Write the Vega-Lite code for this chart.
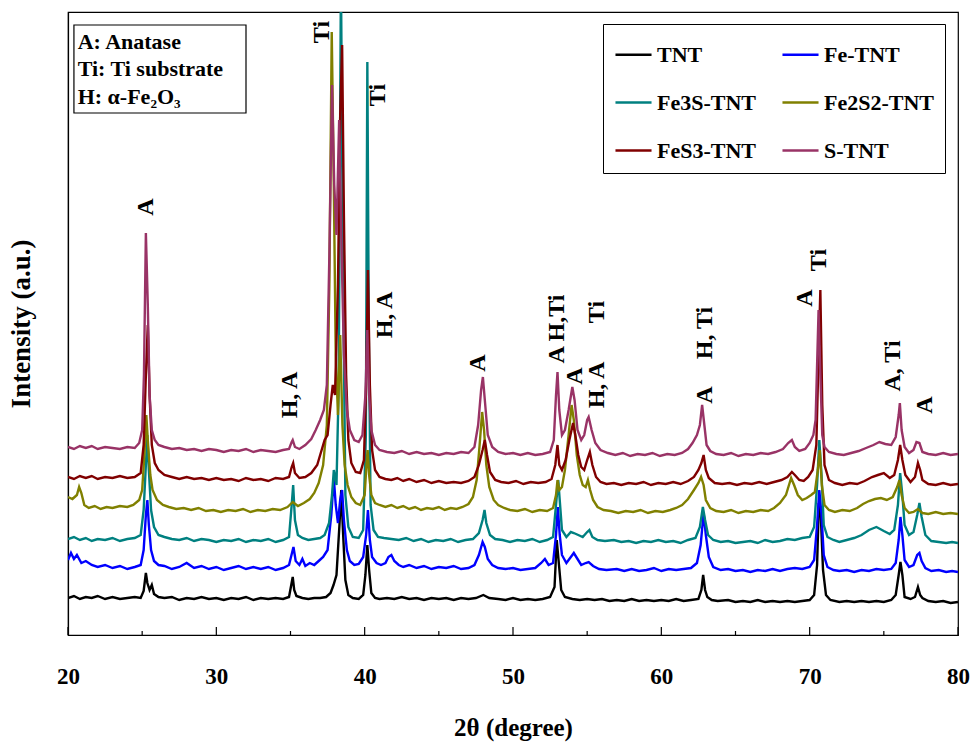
{
"$schema":"https://vega.github.io/schema/vega-lite/v6.json",
"autosize":{"type":"none"},
"width":890,"height":623,
"padding":{"left":68,"top":12,"right":16,"bottom":107},
"background":"white",
"config":{"view":{"stroke":"black","strokeWidth":1.2},"font":"Liberation Serif"},
"datasets":{
"curves":[
{"s":"TNT","x":20.0,"y":37},{"s":"TNT","x":20.4,"y":39},{"s":"TNT","x":20.8,"y":36},{"s":"TNT","x":21.2,"y":38},{"s":"TNT","x":21.6,"y":37},{"s":"TNT","x":22.0,"y":39},{"s":"TNT","x":22.5,"y":36},{"s":"TNT","x":23.0,"y":38},{"s":"TNT","x":23.5,"y":36},{"s":"TNT","x":24.0,"y":37},{"s":"TNT","x":24.5,"y":38},{"s":"TNT","x":24.9,"y":37},{"s":"TNT","x":25.1,"y":44},{"s":"TNT","x":25.25,"y":62},{"s":"TNT","x":25.35,"y":52},{"s":"TNT","x":25.5,"y":45},{"s":"TNT","x":25.65,"y":50},{"s":"TNT","x":25.8,"y":41},{"s":"TNT","x":26.1,"y":38},{"s":"TNT","x":26.5,"y":37},{"s":"TNT","x":27.0,"y":38},{"s":"TNT","x":27.5,"y":35},{"s":"TNT","x":28.0,"y":37},{"s":"TNT","x":28.5,"y":36},{"s":"TNT","x":29.0,"y":38},{"s":"TNT","x":29.5,"y":36},{"s":"TNT","x":30.0,"y":37},{"s":"TNT","x":30.5,"y":35},{"s":"TNT","x":31.0,"y":37},{"s":"TNT","x":31.5,"y":36},{"s":"TNT","x":32.0,"y":38},{"s":"TNT","x":32.5,"y":35},{"s":"TNT","x":33.0,"y":37},{"s":"TNT","x":33.5,"y":36},{"s":"TNT","x":34.0,"y":37},{"s":"TNT","x":34.5,"y":36},{"s":"TNT","x":34.9,"y":38},{"s":"TNT","x":35.05,"y":50},{"s":"TNT","x":35.15,"y":58},{"s":"TNT","x":35.25,"y":45},{"s":"TNT","x":35.4,"y":39},{"s":"TNT","x":35.8,"y":37},{"s":"TNT","x":36.2,"y":36},{"s":"TNT","x":36.6,"y":37},{"s":"TNT","x":37.0,"y":37},{"s":"TNT","x":37.4,"y":38},{"s":"TNT","x":37.7,"y":42},{"s":"TNT","x":37.9,"y":50},{"s":"TNT","x":38.1,"y":60},{"s":"TNT","x":38.3,"y":110},{"s":"TNT","x":38.42,"y":145},{"s":"TNT","x":38.55,"y":100},{"s":"TNT","x":38.7,"y":55},{"s":"TNT","x":38.9,"y":40},{"s":"TNT","x":39.2,"y":37},{"s":"TNT","x":39.6,"y":36},{"s":"TNT","x":39.9,"y":40},{"s":"TNT","x":40.05,"y":60},{"s":"TNT","x":40.18,"y":90},{"s":"TNT","x":40.3,"y":65},{"s":"TNT","x":40.45,"y":42},{"s":"TNT","x":40.7,"y":37},{"s":"TNT","x":41.0,"y":36},{"s":"TNT","x":41.5,"y":37},{"s":"TNT","x":42.0,"y":36},{"s":"TNT","x":42.5,"y":38},{"s":"TNT","x":43.0,"y":36},{"s":"TNT","x":43.5,"y":37},{"s":"TNT","x":44.0,"y":35},{"s":"TNT","x":44.5,"y":37},{"s":"TNT","x":45.0,"y":36},{"s":"TNT","x":45.5,"y":37},{"s":"TNT","x":46.0,"y":35},{"s":"TNT","x":46.5,"y":37},{"s":"TNT","x":47.0,"y":36},{"s":"TNT","x":47.5,"y":37},{"s":"TNT","x":48.0,"y":40},{"s":"TNT","x":48.4,"y":37},{"s":"TNT","x":49.0,"y":36},{"s":"TNT","x":49.5,"y":35},{"s":"TNT","x":50.0,"y":37},{"s":"TNT","x":50.5,"y":35},{"s":"TNT","x":51.0,"y":36},{"s":"TNT","x":51.5,"y":35},{"s":"TNT","x":52.0,"y":36},{"s":"TNT","x":52.5,"y":38},{"s":"TNT","x":52.8,"y":48},{"s":"TNT","x":52.95,"y":95},{"s":"TNT","x":53.1,"y":70},{"s":"TNT","x":53.25,"y":45},{"s":"TNT","x":53.5,"y":38},{"s":"TNT","x":54.0,"y":36},{"s":"TNT","x":54.5,"y":35},{"s":"TNT","x":55.0,"y":36},{"s":"TNT","x":55.5,"y":35},{"s":"TNT","x":56.0,"y":36},{"s":"TNT","x":56.5,"y":34},{"s":"TNT","x":57.0,"y":35},{"s":"TNT","x":57.5,"y":34},{"s":"TNT","x":58.0,"y":36},{"s":"TNT","x":58.5,"y":34},{"s":"TNT","x":59.0,"y":35},{"s":"TNT","x":59.5,"y":34},{"s":"TNT","x":60.0,"y":35},{"s":"TNT","x":60.5,"y":34},{"s":"TNT","x":61.0,"y":36},{"s":"TNT","x":61.5,"y":34},{"s":"TNT","x":62.0,"y":35},{"s":"TNT","x":62.5,"y":36},{"s":"TNT","x":62.7,"y":45},{"s":"TNT","x":62.82,"y":60},{"s":"TNT","x":62.95,"y":45},{"s":"TNT","x":63.1,"y":38},{"s":"TNT","x":63.4,"y":35},{"s":"TNT","x":63.8,"y":34},{"s":"TNT","x":64.5,"y":35},{"s":"TNT","x":65.0,"y":33},{"s":"TNT","x":65.5,"y":34},{"s":"TNT","x":66.0,"y":33},{"s":"TNT","x":66.5,"y":35},{"s":"TNT","x":67.0,"y":33},{"s":"TNT","x":67.5,"y":34},{"s":"TNT","x":68.0,"y":33},{"s":"TNT","x":68.5,"y":34},{"s":"TNT","x":69.0,"y":33},{"s":"TNT","x":69.5,"y":34},{"s":"TNT","x":70.0,"y":35},{"s":"TNT","x":70.3,"y":40},{"s":"TNT","x":70.5,"y":70},{"s":"TNT","x":70.62,"y":132},{"s":"TNT","x":70.75,"y":120},{"s":"TNT","x":70.9,"y":65},{"s":"TNT","x":71.1,"y":40},{"s":"TNT","x":71.4,"y":35},{"s":"TNT","x":72.0,"y":33},{"s":"TNT","x":72.5,"y":34},{"s":"TNT","x":73.0,"y":33},{"s":"TNT","x":73.5,"y":34},{"s":"TNT","x":74.0,"y":33},{"s":"TNT","x":74.5,"y":34},{"s":"TNT","x":75.0,"y":33},{"s":"TNT","x":75.5,"y":35},{"s":"TNT","x":75.8,"y":40},{"s":"TNT","x":76.0,"y":60},{"s":"TNT","x":76.12,"y":73},{"s":"TNT","x":76.25,"y":60},{"s":"TNT","x":76.4,"y":38},{"s":"TNT","x":76.8,"y":36},{"s":"TNT","x":77.1,"y":38},{"s":"TNT","x":77.3,"y":48},{"s":"TNT","x":77.45,"y":40},{"s":"TNT","x":77.6,"y":37},{"s":"TNT","x":78.0,"y":34},{"s":"TNT","x":78.5,"y":33},{"s":"TNT","x":79.0,"y":34},{"s":"TNT","x":79.5,"y":32},{"s":"TNT","x":80.0,"y":33},

{"s":"Fe-TNT","x":20.0,"y":75},{"s":"Fe-TNT","x":20.2,"y":82},{"s":"Fe-TNT","x":20.4,"y":76},{"s":"Fe-TNT","x":20.6,"y":80},{"s":"Fe-TNT","x":20.9,"y":72},{"s":"Fe-TNT","x":21.2,"y":74},{"s":"Fe-TNT","x":21.6,"y":70},{"s":"Fe-TNT","x":22.0,"y":68},{"s":"Fe-TNT","x":22.5,"y":70},{"s":"Fe-TNT","x":23.0,"y":67},{"s":"Fe-TNT","x":23.5,"y":69},{"s":"Fe-TNT","x":24.0,"y":66},{"s":"Fe-TNT","x":24.5,"y":68},{"s":"Fe-TNT","x":24.9,"y":70},{"s":"Fe-TNT","x":25.1,"y":85},{"s":"Fe-TNT","x":25.25,"y":120},{"s":"Fe-TNT","x":25.35,"y":135},{"s":"Fe-TNT","x":25.45,"y":110},{"s":"Fe-TNT","x":25.6,"y":85},{"s":"Fe-TNT","x":25.8,"y":74},{"s":"Fe-TNT","x":26.1,"y":70},{"s":"Fe-TNT","x":26.5,"y":69},{"s":"Fe-TNT","x":27.0,"y":66},{"s":"Fe-TNT","x":27.5,"y":68},{"s":"Fe-TNT","x":28.0,"y":72},{"s":"Fe-TNT","x":28.5,"y":67},{"s":"Fe-TNT","x":29.0,"y":69},{"s":"Fe-TNT","x":29.5,"y":66},{"s":"Fe-TNT","x":30.0,"y":68},{"s":"Fe-TNT","x":30.5,"y":65},{"s":"Fe-TNT","x":31.0,"y":67},{"s":"Fe-TNT","x":31.5,"y":69},{"s":"Fe-TNT","x":32.0,"y":66},{"s":"Fe-TNT","x":32.5,"y":68},{"s":"Fe-TNT","x":33.0,"y":66},{"s":"Fe-TNT","x":33.5,"y":68},{"s":"Fe-TNT","x":34.0,"y":65},{"s":"Fe-TNT","x":34.5,"y":67},{"s":"Fe-TNT","x":34.9,"y":70},{"s":"Fe-TNT","x":35.1,"y":82},{"s":"Fe-TNT","x":35.2,"y":88},{"s":"Fe-TNT","x":35.35,"y":74},{"s":"Fe-TNT","x":35.6,"y":70},{"s":"Fe-TNT","x":35.8,"y":76},{"s":"Fe-TNT","x":36.0,"y":69},{"s":"Fe-TNT","x":36.3,"y":72},{"s":"Fe-TNT","x":36.6,"y":70},{"s":"Fe-TNT","x":36.9,"y":74},{"s":"Fe-TNT","x":37.2,"y":78},{"s":"Fe-TNT","x":37.5,"y":85},{"s":"Fe-TNT","x":37.75,"y":120},{"s":"Fe-TNT","x":37.92,"y":157},{"s":"Fe-TNT","x":38.05,"y":130},{"s":"Fe-TNT","x":38.2,"y":112},{"s":"Fe-TNT","x":38.35,"y":135},{"s":"Fe-TNT","x":38.48,"y":145},{"s":"Fe-TNT","x":38.6,"y":115},{"s":"Fe-TNT","x":38.8,"y":85},{"s":"Fe-TNT","x":39.0,"y":74},{"s":"Fe-TNT","x":39.3,"y":70},{"s":"Fe-TNT","x":39.6,"y":71},{"s":"Fe-TNT","x":39.9,"y":78},{"s":"Fe-TNT","x":40.1,"y":100},{"s":"Fe-TNT","x":40.22,"y":125},{"s":"Fe-TNT","x":40.35,"y":95},{"s":"Fe-TNT","x":40.5,"y":78},{"s":"Fe-TNT","x":40.8,"y":72},{"s":"Fe-TNT","x":41.1,"y":70},{"s":"Fe-TNT","x":41.4,"y":72},{"s":"Fe-TNT","x":41.6,"y":78},{"s":"Fe-TNT","x":41.8,"y":80},{"s":"Fe-TNT","x":42.0,"y":74},{"s":"Fe-TNT","x":42.3,"y":70},{"s":"Fe-TNT","x":42.6,"y":68},{"s":"Fe-TNT","x":43.0,"y":70},{"s":"Fe-TNT","x":43.5,"y":67},{"s":"Fe-TNT","x":44.0,"y":69},{"s":"Fe-TNT","x":44.5,"y":66},{"s":"Fe-TNT","x":45.0,"y":68},{"s":"Fe-TNT","x":45.5,"y":67},{"s":"Fe-TNT","x":46.0,"y":69},{"s":"Fe-TNT","x":46.5,"y":66},{"s":"Fe-TNT","x":47.0,"y":67},{"s":"Fe-TNT","x":47.4,"y":70},{"s":"Fe-TNT","x":47.7,"y":80},{"s":"Fe-TNT","x":47.95,"y":93},{"s":"Fe-TNT","x":48.1,"y":88},{"s":"Fe-TNT","x":48.3,"y":76},{"s":"Fe-TNT","x":48.6,"y":70},{"s":"Fe-TNT","x":49.0,"y":67},{"s":"Fe-TNT","x":49.5,"y":66},{"s":"Fe-TNT","x":50.0,"y":67},{"s":"Fe-TNT","x":50.5,"y":65},{"s":"Fe-TNT","x":51.0,"y":66},{"s":"Fe-TNT","x":51.5,"y":67},{"s":"Fe-TNT","x":51.9,"y":72},{"s":"Fe-TNT","x":52.15,"y":76},{"s":"Fe-TNT","x":52.4,"y":70},{"s":"Fe-TNT","x":52.7,"y":72},{"s":"Fe-TNT","x":52.9,"y":100},{"s":"Fe-TNT","x":53.02,"y":128},{"s":"Fe-TNT","x":53.15,"y":100},{"s":"Fe-TNT","x":53.3,"y":80},{"s":"Fe-TNT","x":53.6,"y":72},{"s":"Fe-TNT","x":53.9,"y":78},{"s":"Fe-TNT","x":54.1,"y":82},{"s":"Fe-TNT","x":54.35,"y":76},{"s":"Fe-TNT","x":54.6,"y":70},{"s":"Fe-TNT","x":54.9,"y":72},{"s":"Fe-TNT","x":55.1,"y":73},{"s":"Fe-TNT","x":55.4,"y":69},{"s":"Fe-TNT","x":55.8,"y":66},{"s":"Fe-TNT","x":56.3,"y":65},{"s":"Fe-TNT","x":57.0,"y":66},{"s":"Fe-TNT","x":57.5,"y":64},{"s":"Fe-TNT","x":58.0,"y":66},{"s":"Fe-TNT","x":58.5,"y":64},{"s":"Fe-TNT","x":59.0,"y":65},{"s":"Fe-TNT","x":59.5,"y":67},{"s":"Fe-TNT","x":60.0,"y":64},{"s":"Fe-TNT","x":60.5,"y":66},{"s":"Fe-TNT","x":61.0,"y":65},{"s":"Fe-TNT","x":61.5,"y":66},{"s":"Fe-TNT","x":62.0,"y":67},{"s":"Fe-TNT","x":62.4,"y":72},{"s":"Fe-TNT","x":62.65,"y":90},{"s":"Fe-TNT","x":62.85,"y":122},{"s":"Fe-TNT","x":63.0,"y":100},{"s":"Fe-TNT","x":63.2,"y":78},{"s":"Fe-TNT","x":63.5,"y":68},{"s":"Fe-TNT","x":64.0,"y":65},{"s":"Fe-TNT","x":64.5,"y":66},{"s":"Fe-TNT","x":65.0,"y":64},{"s":"Fe-TNT","x":65.5,"y":65},{"s":"Fe-TNT","x":66.0,"y":63},{"s":"Fe-TNT","x":66.5,"y":65},{"s":"Fe-TNT","x":67.0,"y":64},{"s":"Fe-TNT","x":67.5,"y":66},{"s":"Fe-TNT","x":68.0,"y":64},{"s":"Fe-TNT","x":68.5,"y":66},{"s":"Fe-TNT","x":69.0,"y":67},{"s":"Fe-TNT","x":69.5,"y":66},{"s":"Fe-TNT","x":70.0,"y":68},{"s":"Fe-TNT","x":70.3,"y":75},{"s":"Fe-TNT","x":70.5,"y":110},{"s":"Fe-TNT","x":70.65,"y":145},{"s":"Fe-TNT","x":70.8,"y":120},{"s":"Fe-TNT","x":70.95,"y":80},{"s":"Fe-TNT","x":71.2,"y":68},{"s":"Fe-TNT","x":71.6,"y":65},{"s":"Fe-TNT","x":72.0,"y":64},{"s":"Fe-TNT","x":72.5,"y":65},{"s":"Fe-TNT","x":73.0,"y":63},{"s":"Fe-TNT","x":73.5,"y":65},{"s":"Fe-TNT","x":74.0,"y":64},{"s":"Fe-TNT","x":74.5,"y":66},{"s":"Fe-TNT","x":75.0,"y":65},{"s":"Fe-TNT","x":75.5,"y":66},{"s":"Fe-TNT","x":75.8,"y":72},{"s":"Fe-TNT","x":76.0,"y":95},{"s":"Fe-TNT","x":76.12,"y":118},{"s":"Fe-TNT","x":76.25,"y":100},{"s":"Fe-TNT","x":76.4,"y":75},{"s":"Fe-TNT","x":76.7,"y":68},{"s":"Fe-TNT","x":77.0,"y":70},{"s":"Fe-TNT","x":77.25,"y":80},{"s":"Fe-TNT","x":77.4,"y":82},{"s":"Fe-TNT","x":77.55,"y":74},{"s":"Fe-TNT","x":77.8,"y":67},{"s":"Fe-TNT","x":78.2,"y":64},{"s":"Fe-TNT","x":78.7,"y":65},{"s":"Fe-TNT","x":79.2,"y":63},{"s":"Fe-TNT","x":79.6,"y":64},{"s":"Fe-TNT","x":80.0,"y":63},

{"s":"Fe3S-TNT","x":20.0,"y":96},{"s":"Fe3S-TNT","x":20.4,"y":98},{"s":"Fe3S-TNT","x":20.8,"y":95},{"s":"Fe3S-TNT","x":21.2,"y":97},{"s":"Fe3S-TNT","x":21.6,"y":94},{"s":"Fe3S-TNT","x":22.0,"y":96},{"s":"Fe3S-TNT","x":22.5,"y":95},{"s":"Fe3S-TNT","x":23.0,"y":97},{"s":"Fe3S-TNT","x":23.5,"y":94},{"s":"Fe3S-TNT","x":24.0,"y":96},{"s":"Fe3S-TNT","x":24.5,"y":97},{"s":"Fe3S-TNT","x":24.9,"y":100},{"s":"Fe3S-TNT","x":25.1,"y":125},{"s":"Fe3S-TNT","x":25.25,"y":170},{"s":"Fe3S-TNT","x":25.35,"y":200},{"s":"Fe3S-TNT","x":25.45,"y":165},{"s":"Fe3S-TNT","x":25.6,"y":125},{"s":"Fe3S-TNT","x":25.8,"y":108},{"s":"Fe3S-TNT","x":26.1,"y":100},{"s":"Fe3S-TNT","x":26.5,"y":98},{"s":"Fe3S-TNT","x":27.0,"y":96},{"s":"Fe3S-TNT","x":27.5,"y":95},{"s":"Fe3S-TNT","x":28.0,"y":97},{"s":"Fe3S-TNT","x":28.5,"y":94},{"s":"Fe3S-TNT","x":29.0,"y":96},{"s":"Fe3S-TNT","x":29.5,"y":95},{"s":"Fe3S-TNT","x":30.0,"y":93},{"s":"Fe3S-TNT","x":30.5,"y":95},{"s":"Fe3S-TNT","x":31.0,"y":94},{"s":"Fe3S-TNT","x":31.5,"y":96},{"s":"Fe3S-TNT","x":32.0,"y":93},{"s":"Fe3S-TNT","x":32.5,"y":95},{"s":"Fe3S-TNT","x":33.0,"y":94},{"s":"Fe3S-TNT","x":33.5,"y":96},{"s":"Fe3S-TNT","x":34.0,"y":93},{"s":"Fe3S-TNT","x":34.5,"y":95},{"s":"Fe3S-TNT","x":34.9,"y":98},{"s":"Fe3S-TNT","x":35.08,"y":130},{"s":"Fe3S-TNT","x":35.18,"y":150},{"s":"Fe3S-TNT","x":35.3,"y":115},{"s":"Fe3S-TNT","x":35.5,"y":100},{"s":"Fe3S-TNT","x":35.8,"y":97},{"s":"Fe3S-TNT","x":36.2,"y":95},{"s":"Fe3S-TNT","x":36.6,"y":96},{"s":"Fe3S-TNT","x":37.0,"y":97},{"s":"Fe3S-TNT","x":37.3,"y":100},{"s":"Fe3S-TNT","x":37.6,"y":112},{"s":"Fe3S-TNT","x":37.8,"y":140},{"s":"Fe3S-TNT","x":37.92,"y":165},{"s":"Fe3S-TNT","x":38.1,"y":150},{"s":"Fe3S-TNT","x":38.25,"y":250},{"s":"Fe3S-TNT","x":38.4,"y":660},{"s":"Fe3S-TNT","x":38.55,"y":350},{"s":"Fe3S-TNT","x":38.7,"y":140},{"s":"Fe3S-TNT","x":38.9,"y":108},{"s":"Fe3S-TNT","x":39.2,"y":98},{"s":"Fe3S-TNT","x":39.6,"y":97},{"s":"Fe3S-TNT","x":39.9,"y":105},{"s":"Fe3S-TNT","x":40.08,"y":200},{"s":"Fe3S-TNT","x":40.18,"y":573},{"s":"Fe3S-TNT","x":40.28,"y":300},{"s":"Fe3S-TNT","x":40.4,"y":130},{"s":"Fe3S-TNT","x":40.6,"y":105},{"s":"Fe3S-TNT","x":40.9,"y":98},{"s":"Fe3S-TNT","x":41.3,"y":97},{"s":"Fe3S-TNT","x":41.8,"y":96},{"s":"Fe3S-TNT","x":42.3,"y":95},{"s":"Fe3S-TNT","x":42.8,"y":97},{"s":"Fe3S-TNT","x":43.3,"y":94},{"s":"Fe3S-TNT","x":43.8,"y":96},{"s":"Fe3S-TNT","x":44.3,"y":93},{"s":"Fe3S-TNT","x":44.8,"y":95},{"s":"Fe3S-TNT","x":45.3,"y":94},{"s":"Fe3S-TNT","x":45.8,"y":96},{"s":"Fe3S-TNT","x":46.3,"y":93},{"s":"Fe3S-TNT","x":46.8,"y":95},{"s":"Fe3S-TNT","x":47.3,"y":96},{"s":"Fe3S-TNT","x":47.7,"y":102},{"s":"Fe3S-TNT","x":47.95,"y":115},{"s":"Fe3S-TNT","x":48.08,"y":125},{"s":"Fe3S-TNT","x":48.2,"y":112},{"s":"Fe3S-TNT","x":48.45,"y":100},{"s":"Fe3S-TNT","x":48.8,"y":96},{"s":"Fe3S-TNT","x":49.3,"y":95},{"s":"Fe3S-TNT","x":49.8,"y":93},{"s":"Fe3S-TNT","x":50.3,"y":95},{"s":"Fe3S-TNT","x":50.8,"y":94},{"s":"Fe3S-TNT","x":51.3,"y":96},{"s":"Fe3S-TNT","x":51.8,"y":93},{"s":"Fe3S-TNT","x":52.3,"y":95},{"s":"Fe3S-TNT","x":52.7,"y":98},{"s":"Fe3S-TNT","x":52.9,"y":130},{"s":"Fe3S-TNT","x":53.05,"y":155},{"s":"Fe3S-TNT","x":53.15,"y":135},{"s":"Fe3S-TNT","x":53.3,"y":105},{"s":"Fe3S-TNT","x":53.6,"y":98},{"s":"Fe3S-TNT","x":53.9,"y":103},{"s":"Fe3S-TNT","x":54.1,"y":102},{"s":"Fe3S-TNT","x":54.4,"y":100},{"s":"Fe3S-TNT","x":54.7,"y":98},{"s":"Fe3S-TNT","x":55.0,"y":103},{"s":"Fe3S-TNT","x":55.15,"y":105},{"s":"Fe3S-TNT","x":55.35,"y":98},{"s":"Fe3S-TNT","x":55.7,"y":95},{"s":"Fe3S-TNT","x":56.2,"y":94},{"s":"Fe3S-TNT","x":56.8,"y":95},{"s":"Fe3S-TNT","x":57.3,"y":93},{"s":"Fe3S-TNT","x":57.8,"y":94},{"s":"Fe3S-TNT","x":58.3,"y":92},{"s":"Fe3S-TNT","x":58.8,"y":94},{"s":"Fe3S-TNT","x":59.3,"y":93},{"s":"Fe3S-TNT","x":59.8,"y":95},{"s":"Fe3S-TNT","x":60.3,"y":93},{"s":"Fe3S-TNT","x":60.8,"y":94},{"s":"Fe3S-TNT","x":61.3,"y":92},{"s":"Fe3S-TNT","x":61.8,"y":95},{"s":"Fe3S-TNT","x":62.3,"y":97},{"s":"Fe3S-TNT","x":62.6,"y":108},{"s":"Fe3S-TNT","x":62.8,"y":128},{"s":"Fe3S-TNT","x":62.95,"y":115},{"s":"Fe3S-TNT","x":63.15,"y":100},{"s":"Fe3S-TNT","x":63.5,"y":95},{"s":"Fe3S-TNT","x":64.0,"y":93},{"s":"Fe3S-TNT","x":64.5,"y":94},{"s":"Fe3S-TNT","x":65.0,"y":92},{"s":"Fe3S-TNT","x":65.5,"y":93},{"s":"Fe3S-TNT","x":66.0,"y":94},{"s":"Fe3S-TNT","x":66.5,"y":92},{"s":"Fe3S-TNT","x":67.0,"y":95},{"s":"Fe3S-TNT","x":67.5,"y":93},{"s":"Fe3S-TNT","x":68.0,"y":94},{"s":"Fe3S-TNT","x":68.5,"y":96},{"s":"Fe3S-TNT","x":69.0,"y":95},{"s":"Fe3S-TNT","x":69.5,"y":97},{"s":"Fe3S-TNT","x":70.0,"y":98},{"s":"Fe3S-TNT","x":70.3,"y":108},{"s":"Fe3S-TNT","x":70.5,"y":150},{"s":"Fe3S-TNT","x":70.65,"y":195},{"s":"Fe3S-TNT","x":70.8,"y":160},{"s":"Fe3S-TNT","x":70.95,"y":110},{"s":"Fe3S-TNT","x":71.2,"y":98},{"s":"Fe3S-TNT","x":71.6,"y":95},{"s":"Fe3S-TNT","x":72.0,"y":93},{"s":"Fe3S-TNT","x":72.5,"y":95},{"s":"Fe3S-TNT","x":73.0,"y":97},{"s":"Fe3S-TNT","x":73.5,"y":100},{"s":"Fe3S-TNT","x":74.0,"y":105},{"s":"Fe3S-TNT","x":74.5,"y":108},{"s":"Fe3S-TNT","x":75.0,"y":104},{"s":"Fe3S-TNT","x":75.4,"y":101},{"s":"Fe3S-TNT","x":75.7,"y":105},{"s":"Fe3S-TNT","x":75.95,"y":130},{"s":"Fe3S-TNT","x":76.1,"y":162},{"s":"Fe3S-TNT","x":76.25,"y":140},{"s":"Fe3S-TNT","x":76.4,"y":110},{"s":"Fe3S-TNT","x":76.7,"y":100},{"s":"Fe3S-TNT","x":77.0,"y":103},{"s":"Fe3S-TNT","x":77.25,"y":120},{"s":"Fe3S-TNT","x":77.4,"y":132},{"s":"Fe3S-TNT","x":77.55,"y":118},{"s":"Fe3S-TNT","x":77.8,"y":100},{"s":"Fe3S-TNT","x":78.2,"y":94},{"s":"Fe3S-TNT","x":78.7,"y":93},{"s":"Fe3S-TNT","x":79.2,"y":92},{"s":"Fe3S-TNT","x":79.6,"y":93},{"s":"Fe3S-TNT","x":80.0,"y":92},

{"s":"Fe2S2-TNT","x":20.0,"y":138},{"s":"Fe2S2-TNT","x":20.3,"y":136},{"s":"Fe2S2-TNT","x":20.6,"y":140},{"s":"Fe2S2-TNT","x":20.75,"y":148},{"s":"Fe2S2-TNT","x":20.9,"y":142},{"s":"Fe2S2-TNT","x":21.1,"y":130},{"s":"Fe2S2-TNT","x":21.4,"y":127},{"s":"Fe2S2-TNT","x":21.8,"y":129},{"s":"Fe2S2-TNT","x":22.2,"y":126},{"s":"Fe2S2-TNT","x":22.6,"y":128},{"s":"Fe2S2-TNT","x":23.0,"y":127},{"s":"Fe2S2-TNT","x":23.5,"y":129},{"s":"Fe2S2-TNT","x":24.0,"y":128},{"s":"Fe2S2-TNT","x":24.4,"y":130},{"s":"Fe2S2-TNT","x":24.8,"y":135},{"s":"Fe2S2-TNT","x":25.0,"y":145},{"s":"Fe2S2-TNT","x":25.15,"y":180},{"s":"Fe2S2-TNT","x":25.28,"y":220},{"s":"Fe2S2-TNT","x":25.4,"y":190},{"s":"Fe2S2-TNT","x":25.55,"y":160},{"s":"Fe2S2-TNT","x":25.7,"y":145},{"s":"Fe2S2-TNT","x":26.0,"y":135},{"s":"Fe2S2-TNT","x":26.4,"y":130},{"s":"Fe2S2-TNT","x":26.8,"y":128},{"s":"Fe2S2-TNT","x":27.3,"y":126},{"s":"Fe2S2-TNT","x":27.8,"y":127},{"s":"Fe2S2-TNT","x":28.3,"y":125},{"s":"Fe2S2-TNT","x":28.8,"y":127},{"s":"Fe2S2-TNT","x":29.3,"y":124},{"s":"Fe2S2-TNT","x":29.8,"y":125},{"s":"Fe2S2-TNT","x":30.3,"y":123},{"s":"Fe2S2-TNT","x":30.8,"y":125},{"s":"Fe2S2-TNT","x":31.3,"y":124},{"s":"Fe2S2-TNT","x":31.8,"y":126},{"s":"Fe2S2-TNT","x":32.3,"y":123},{"s":"Fe2S2-TNT","x":32.8,"y":125},{"s":"Fe2S2-TNT","x":33.3,"y":124},{"s":"Fe2S2-TNT","x":33.8,"y":126},{"s":"Fe2S2-TNT","x":34.3,"y":125},{"s":"Fe2S2-TNT","x":34.8,"y":128},{"s":"Fe2S2-TNT","x":35.15,"y":133},{"s":"Fe2S2-TNT","x":35.5,"y":129},{"s":"Fe2S2-TNT","x":35.9,"y":132},{"s":"Fe2S2-TNT","x":36.3,"y":136},{"s":"Fe2S2-TNT","x":36.6,"y":142},{"s":"Fe2S2-TNT","x":36.9,"y":152},{"s":"Fe2S2-TNT","x":37.2,"y":170},{"s":"Fe2S2-TNT","x":37.45,"y":210},{"s":"Fe2S2-TNT","x":37.62,"y":350},{"s":"Fe2S2-TNT","x":37.78,"y":603},{"s":"Fe2S2-TNT","x":37.92,"y":450},{"s":"Fe2S2-TNT","x":38.05,"y":280},{"s":"Fe2S2-TNT","x":38.2,"y":220},{"s":"Fe2S2-TNT","x":38.35,"y":300},{"s":"Fe2S2-TNT","x":38.5,"y":210},{"s":"Fe2S2-TNT","x":38.65,"y":170},{"s":"Fe2S2-TNT","x":38.85,"y":150},{"s":"Fe2S2-TNT","x":39.1,"y":138},{"s":"Fe2S2-TNT","x":39.4,"y":132},{"s":"Fe2S2-TNT","x":39.7,"y":130},{"s":"Fe2S2-TNT","x":40.0,"y":140},{"s":"Fe2S2-TNT","x":40.12,"y":170},{"s":"Fe2S2-TNT","x":40.2,"y":185},{"s":"Fe2S2-TNT","x":40.3,"y":160},{"s":"Fe2S2-TNT","x":40.45,"y":140},{"s":"Fe2S2-TNT","x":40.7,"y":132},{"s":"Fe2S2-TNT","x":41.0,"y":130},{"s":"Fe2S2-TNT","x":41.4,"y":128},{"s":"Fe2S2-TNT","x":41.8,"y":130},{"s":"Fe2S2-TNT","x":42.2,"y":127},{"s":"Fe2S2-TNT","x":42.6,"y":129},{"s":"Fe2S2-TNT","x":43.0,"y":126},{"s":"Fe2S2-TNT","x":43.4,"y":128},{"s":"Fe2S2-TNT","x":43.8,"y":125},{"s":"Fe2S2-TNT","x":44.2,"y":127},{"s":"Fe2S2-TNT","x":44.6,"y":126},{"s":"Fe2S2-TNT","x":45.0,"y":128},{"s":"Fe2S2-TNT","x":45.4,"y":125},{"s":"Fe2S2-TNT","x":45.8,"y":127},{"s":"Fe2S2-TNT","x":46.2,"y":126},{"s":"Fe2S2-TNT","x":46.6,"y":128},{"s":"Fe2S2-TNT","x":47.0,"y":131},{"s":"Fe2S2-TNT","x":47.3,"y":138},{"s":"Fe2S2-TNT","x":47.55,"y":155},{"s":"Fe2S2-TNT","x":47.75,"y":190},{"s":"Fe2S2-TNT","x":47.92,"y":223},{"s":"Fe2S2-TNT","x":48.05,"y":205},{"s":"Fe2S2-TNT","x":48.2,"y":170},{"s":"Fe2S2-TNT","x":48.4,"y":148},{"s":"Fe2S2-TNT","x":48.7,"y":135},{"s":"Fe2S2-TNT","x":49.0,"y":130},{"s":"Fe2S2-TNT","x":49.4,"y":127},{"s":"Fe2S2-TNT","x":49.8,"y":125},{"s":"Fe2S2-TNT","x":50.3,"y":124},{"s":"Fe2S2-TNT","x":50.8,"y":126},{"s":"Fe2S2-TNT","x":51.3,"y":123},{"s":"Fe2S2-TNT","x":51.8,"y":125},{"s":"Fe2S2-TNT","x":52.3,"y":124},{"s":"Fe2S2-TNT","x":52.7,"y":127},{"s":"Fe2S2-TNT","x":52.9,"y":140},{"s":"Fe2S2-TNT","x":53.0,"y":155},{"s":"Fe2S2-TNT","x":53.12,"y":145},{"s":"Fe2S2-TNT","x":53.3,"y":148},{"s":"Fe2S2-TNT","x":53.5,"y":165},{"s":"Fe2S2-TNT","x":53.75,"y":200},{"s":"Fe2S2-TNT","x":53.95,"y":230},{"s":"Fe2S2-TNT","x":54.1,"y":215},{"s":"Fe2S2-TNT","x":54.3,"y":180},{"s":"Fe2S2-TNT","x":54.5,"y":160},{"s":"Fe2S2-TNT","x":54.7,"y":150},{"s":"Fe2S2-TNT","x":54.9,"y":148},{"s":"Fe2S2-TNT","x":55.05,"y":155},{"s":"Fe2S2-TNT","x":55.2,"y":145},{"s":"Fe2S2-TNT","x":55.4,"y":135},{"s":"Fe2S2-TNT","x":55.7,"y":128},{"s":"Fe2S2-TNT","x":56.1,"y":125},{"s":"Fe2S2-TNT","x":56.6,"y":124},{"s":"Fe2S2-TNT","x":57.1,"y":122},{"s":"Fe2S2-TNT","x":57.6,"y":124},{"s":"Fe2S2-TNT","x":58.1,"y":123},{"s":"Fe2S2-TNT","x":58.6,"y":125},{"s":"Fe2S2-TNT","x":59.1,"y":122},{"s":"Fe2S2-TNT","x":59.6,"y":124},{"s":"Fe2S2-TNT","x":60.1,"y":123},{"s":"Fe2S2-TNT","x":60.6,"y":125},{"s":"Fe2S2-TNT","x":61.0,"y":127},{"s":"Fe2S2-TNT","x":61.4,"y":130},{"s":"Fe2S2-TNT","x":61.8,"y":136},{"s":"Fe2S2-TNT","x":62.2,"y":145},{"s":"Fe2S2-TNT","x":62.5,"y":152},{"s":"Fe2S2-TNT","x":62.68,"y":158},{"s":"Fe2S2-TNT","x":62.85,"y":150},{"s":"Fe2S2-TNT","x":63.0,"y":135},{"s":"Fe2S2-TNT","x":63.3,"y":127},{"s":"Fe2S2-TNT","x":63.7,"y":124},{"s":"Fe2S2-TNT","x":64.2,"y":123},{"s":"Fe2S2-TNT","x":64.7,"y":125},{"s":"Fe2S2-TNT","x":65.2,"y":122},{"s":"Fe2S2-TNT","x":65.7,"y":124},{"s":"Fe2S2-TNT","x":66.2,"y":123},{"s":"Fe2S2-TNT","x":66.7,"y":125},{"s":"Fe2S2-TNT","x":67.2,"y":124},{"s":"Fe2S2-TNT","x":67.6,"y":127},{"s":"Fe2S2-TNT","x":68.0,"y":132},{"s":"Fe2S2-TNT","x":68.4,"y":140},{"s":"Fe2S2-TNT","x":68.75,"y":157},{"s":"Fe2S2-TNT","x":68.95,"y":150},{"s":"Fe2S2-TNT","x":69.2,"y":140},{"s":"Fe2S2-TNT","x":69.5,"y":135},{"s":"Fe2S2-TNT","x":69.8,"y":137},{"s":"Fe2S2-TNT","x":70.1,"y":140},{"s":"Fe2S2-TNT","x":70.35,"y":143},{"s":"Fe2S2-TNT","x":70.55,"y":165},{"s":"Fe2S2-TNT","x":70.68,"y":185},{"s":"Fe2S2-TNT","x":70.82,"y":150},{"s":"Fe2S2-TNT","x":71.0,"y":130},{"s":"Fe2S2-TNT","x":71.3,"y":125},{"s":"Fe2S2-TNT","x":71.7,"y":123},{"s":"Fe2S2-TNT","x":72.2,"y":125},{"s":"Fe2S2-TNT","x":72.7,"y":124},{"s":"Fe2S2-TNT","x":73.2,"y":127},{"s":"Fe2S2-TNT","x":73.6,"y":131},{"s":"Fe2S2-TNT","x":74.0,"y":134},{"s":"Fe2S2-TNT","x":74.4,"y":136},{"s":"Fe2S2-TNT","x":74.8,"y":137},{"s":"Fe2S2-TNT","x":75.2,"y":135},{"s":"Fe2S2-TNT","x":75.6,"y":138},{"s":"Fe2S2-TNT","x":75.9,"y":148},{"s":"Fe2S2-TNT","x":76.05,"y":155},{"s":"Fe2S2-TNT","x":76.2,"y":140},{"s":"Fe2S2-TNT","x":76.4,"y":127},{"s":"Fe2S2-TNT","x":76.7,"y":122},{"s":"Fe2S2-TNT","x":77.0,"y":123},{"s":"Fe2S2-TNT","x":77.3,"y":126},{"s":"Fe2S2-TNT","x":77.6,"y":122},{"s":"Fe2S2-TNT","x":78.0,"y":121},{"s":"Fe2S2-TNT","x":78.5,"y":123},{"s":"Fe2S2-TNT","x":79.0,"y":121},{"s":"Fe2S2-TNT","x":79.5,"y":122},{"s":"Fe2S2-TNT","x":80.0,"y":121},

{"s":"FeS3-TNT","x":20.0,"y":158},{"s":"FeS3-TNT","x":20.4,"y":156},{"s":"FeS3-TNT","x":20.8,"y":159},{"s":"FeS3-TNT","x":21.2,"y":157},{"s":"FeS3-TNT","x":21.6,"y":159},{"s":"FeS3-TNT","x":22.0,"y":156},{"s":"FeS3-TNT","x":22.5,"y":158},{"s":"FeS3-TNT","x":23.0,"y":157},{"s":"FeS3-TNT","x":23.5,"y":159},{"s":"FeS3-TNT","x":24.0,"y":157},{"s":"FeS3-TNT","x":24.5,"y":158},{"s":"FeS3-TNT","x":24.9,"y":162},{"s":"FeS3-TNT","x":25.1,"y":190},{"s":"FeS3-TNT","x":25.25,"y":260},{"s":"FeS3-TNT","x":25.38,"y":310},{"s":"FeS3-TNT","x":25.5,"y":240},{"s":"FeS3-TNT","x":25.65,"y":190},{"s":"FeS3-TNT","x":25.85,"y":172},{"s":"FeS3-TNT","x":26.1,"y":165},{"s":"FeS3-TNT","x":26.5,"y":160},{"s":"FeS3-TNT","x":27.0,"y":158},{"s":"FeS3-TNT","x":27.5,"y":156},{"s":"FeS3-TNT","x":28.0,"y":158},{"s":"FeS3-TNT","x":28.5,"y":156},{"s":"FeS3-TNT","x":29.0,"y":157},{"s":"FeS3-TNT","x":29.5,"y":155},{"s":"FeS3-TNT","x":30.0,"y":157},{"s":"FeS3-TNT","x":30.5,"y":155},{"s":"FeS3-TNT","x":31.0,"y":156},{"s":"FeS3-TNT","x":31.5,"y":154},{"s":"FeS3-TNT","x":32.0,"y":157},{"s":"FeS3-TNT","x":32.5,"y":155},{"s":"FeS3-TNT","x":33.0,"y":156},{"s":"FeS3-TNT","x":33.5,"y":154},{"s":"FeS3-TNT","x":34.0,"y":157},{"s":"FeS3-TNT","x":34.5,"y":156},{"s":"FeS3-TNT","x":34.9,"y":158},{"s":"FeS3-TNT","x":35.08,"y":168},{"s":"FeS3-TNT","x":35.18,"y":172},{"s":"FeS3-TNT","x":35.3,"y":162},{"s":"FeS3-TNT","x":35.6,"y":157},{"s":"FeS3-TNT","x":36.0,"y":158},{"s":"FeS3-TNT","x":36.4,"y":162},{"s":"FeS3-TNT","x":36.8,"y":170},{"s":"FeS3-TNT","x":37.1,"y":185},{"s":"FeS3-TNT","x":37.3,"y":195},{"s":"FeS3-TNT","x":37.5,"y":200},{"s":"FeS3-TNT","x":37.7,"y":230},{"s":"FeS3-TNT","x":37.85,"y":250},{"s":"FeS3-TNT","x":38.0,"y":240},{"s":"FeS3-TNT","x":38.2,"y":350},{"s":"FeS3-TNT","x":38.35,"y":520},{"s":"FeS3-TNT","x":38.48,"y":590},{"s":"FeS3-TNT","x":38.6,"y":420},{"s":"FeS3-TNT","x":38.75,"y":260},{"s":"FeS3-TNT","x":38.9,"y":195},{"s":"FeS3-TNT","x":39.1,"y":172},{"s":"FeS3-TNT","x":39.4,"y":163},{"s":"FeS3-TNT","x":39.7,"y":162},{"s":"FeS3-TNT","x":39.95,"y":175},{"s":"FeS3-TNT","x":40.1,"y":250},{"s":"FeS3-TNT","x":40.22,"y":365},{"s":"FeS3-TNT","x":40.35,"y":250},{"s":"FeS3-TNT","x":40.5,"y":185},{"s":"FeS3-TNT","x":40.7,"y":165},{"s":"FeS3-TNT","x":41.0,"y":158},{"s":"FeS3-TNT","x":41.4,"y":156},{"s":"FeS3-TNT","x":41.8,"y":155},{"s":"FeS3-TNT","x":42.2,"y":157},{"s":"FeS3-TNT","x":42.6,"y":154},{"s":"FeS3-TNT","x":43.0,"y":156},{"s":"FeS3-TNT","x":43.5,"y":153},{"s":"FeS3-TNT","x":44.0,"y":155},{"s":"FeS3-TNT","x":44.5,"y":152},{"s":"FeS3-TNT","x":45.0,"y":154},{"s":"FeS3-TNT","x":45.5,"y":152},{"s":"FeS3-TNT","x":46.0,"y":153},{"s":"FeS3-TNT","x":46.5,"y":152},{"s":"FeS3-TNT","x":47.0,"y":154},{"s":"FeS3-TNT","x":47.4,"y":158},{"s":"FeS3-TNT","x":47.7,"y":170},{"s":"FeS3-TNT","x":47.95,"y":185},{"s":"FeS3-TNT","x":48.1,"y":195},{"s":"FeS3-TNT","x":48.25,"y":180},{"s":"FeS3-TNT","x":48.45,"y":163},{"s":"FeS3-TNT","x":48.8,"y":155},{"s":"FeS3-TNT","x":49.2,"y":153},{"s":"FeS3-TNT","x":49.7,"y":152},{"s":"FeS3-TNT","x":50.2,"y":154},{"s":"FeS3-TNT","x":50.7,"y":151},{"s":"FeS3-TNT","x":51.2,"y":153},{"s":"FeS3-TNT","x":51.7,"y":152},{"s":"FeS3-TNT","x":52.2,"y":153},{"s":"FeS3-TNT","x":52.6,"y":156},{"s":"FeS3-TNT","x":52.85,"y":170},{"s":"FeS3-TNT","x":53.0,"y":190},{"s":"FeS3-TNT","x":53.12,"y":170},{"s":"FeS3-TNT","x":53.3,"y":165},{"s":"FeS3-TNT","x":53.55,"y":175},{"s":"FeS3-TNT","x":53.8,"y":195},{"s":"FeS3-TNT","x":54.05,"y":212},{"s":"FeS3-TNT","x":54.2,"y":200},{"s":"FeS3-TNT","x":54.4,"y":180},{"s":"FeS3-TNT","x":54.6,"y":168},{"s":"FeS3-TNT","x":54.8,"y":165},{"s":"FeS3-TNT","x":55.0,"y":175},{"s":"FeS3-TNT","x":55.18,"y":183},{"s":"FeS3-TNT","x":55.35,"y":170},{"s":"FeS3-TNT","x":55.6,"y":158},{"s":"FeS3-TNT","x":55.9,"y":153},{"s":"FeS3-TNT","x":56.3,"y":151},{"s":"FeS3-TNT","x":56.8,"y":152},{"s":"FeS3-TNT","x":57.3,"y":150},{"s":"FeS3-TNT","x":57.8,"y":152},{"s":"FeS3-TNT","x":58.3,"y":151},{"s":"FeS3-TNT","x":58.8,"y":153},{"s":"FeS3-TNT","x":59.3,"y":150},{"s":"FeS3-TNT","x":59.8,"y":152},{"s":"FeS3-TNT","x":60.3,"y":151},{"s":"FeS3-TNT","x":60.8,"y":153},{"s":"FeS3-TNT","x":61.3,"y":151},{"s":"FeS3-TNT","x":61.8,"y":154},{"s":"FeS3-TNT","x":62.2,"y":158},{"s":"FeS3-TNT","x":62.5,"y":165},{"s":"FeS3-TNT","x":62.7,"y":172},{"s":"FeS3-TNT","x":62.85,"y":180},{"s":"FeS3-TNT","x":63.0,"y":165},{"s":"FeS3-TNT","x":63.2,"y":157},{"s":"FeS3-TNT","x":63.6,"y":152},{"s":"FeS3-TNT","x":64.1,"y":151},{"s":"FeS3-TNT","x":64.6,"y":152},{"s":"FeS3-TNT","x":65.1,"y":150},{"s":"FeS3-TNT","x":65.6,"y":152},{"s":"FeS3-TNT","x":66.1,"y":151},{"s":"FeS3-TNT","x":66.6,"y":153},{"s":"FeS3-TNT","x":67.1,"y":151},{"s":"FeS3-TNT","x":67.6,"y":153},{"s":"FeS3-TNT","x":68.1,"y":155},{"s":"FeS3-TNT","x":68.5,"y":158},{"s":"FeS3-TNT","x":68.8,"y":163},{"s":"FeS3-TNT","x":69.0,"y":160},{"s":"FeS3-TNT","x":69.3,"y":155},{"s":"FeS3-TNT","x":69.6,"y":154},{"s":"FeS3-TNT","x":69.9,"y":158},{"s":"FeS3-TNT","x":70.2,"y":165},{"s":"FeS3-TNT","x":70.45,"y":190},{"s":"FeS3-TNT","x":70.6,"y":280},{"s":"FeS3-TNT","x":70.72,"y":345},{"s":"FeS3-TNT","x":70.85,"y":230},{"s":"FeS3-TNT","x":71.0,"y":170},{"s":"FeS3-TNT","x":71.3,"y":155},{"s":"FeS3-TNT","x":71.7,"y":152},{"s":"FeS3-TNT","x":72.2,"y":150},{"s":"FeS3-TNT","x":72.7,"y":152},{"s":"FeS3-TNT","x":73.2,"y":151},{"s":"FeS3-TNT","x":73.7,"y":154},{"s":"FeS3-TNT","x":74.2,"y":158},{"s":"FeS3-TNT","x":74.6,"y":160},{"s":"FeS3-TNT","x":75.0,"y":162},{"s":"FeS3-TNT","x":75.4,"y":157},{"s":"FeS3-TNT","x":75.7,"y":160},{"s":"FeS3-TNT","x":75.95,"y":175},{"s":"FeS3-TNT","x":76.1,"y":190},{"s":"FeS3-TNT","x":76.25,"y":175},{"s":"FeS3-TNT","x":76.45,"y":160},{"s":"FeS3-TNT","x":76.8,"y":153},{"s":"FeS3-TNT","x":77.1,"y":158},{"s":"FeS3-TNT","x":77.3,"y":172},{"s":"FeS3-TNT","x":77.45,"y":165},{"s":"FeS3-TNT","x":77.6,"y":155},{"s":"FeS3-TNT","x":78.0,"y":151},{"s":"FeS3-TNT","x":78.5,"y":150},{"s":"FeS3-TNT","x":79.0,"y":152},{"s":"FeS3-TNT","x":79.5,"y":150},{"s":"FeS3-TNT","x":80.0,"y":151},

{"s":"S-TNT","x":20.0,"y":188},{"s":"S-TNT","x":20.4,"y":186},{"s":"S-TNT","x":20.8,"y":189},{"s":"S-TNT","x":21.2,"y":187},{"s":"S-TNT","x":21.6,"y":189},{"s":"S-TNT","x":22.0,"y":186},{"s":"S-TNT","x":22.5,"y":188},{"s":"S-TNT","x":23.0,"y":187},{"s":"S-TNT","x":23.5,"y":186},{"s":"S-TNT","x":24.0,"y":188},{"s":"S-TNT","x":24.5,"y":187},{"s":"S-TNT","x":24.8,"y":192},{"s":"S-TNT","x":25.0,"y":205},{"s":"S-TNT","x":25.12,"y":260},{"s":"S-TNT","x":25.25,"y":402},{"s":"S-TNT","x":25.38,"y":330},{"s":"S-TNT","x":25.5,"y":240},{"s":"S-TNT","x":25.65,"y":205},{"s":"S-TNT","x":25.85,"y":195},{"s":"S-TNT","x":26.1,"y":190},{"s":"S-TNT","x":26.5,"y":188},{"s":"S-TNT","x":27.0,"y":186},{"s":"S-TNT","x":27.5,"y":187},{"s":"S-TNT","x":28.0,"y":185},{"s":"S-TNT","x":28.5,"y":186},{"s":"S-TNT","x":29.0,"y":184},{"s":"S-TNT","x":29.5,"y":186},{"s":"S-TNT","x":30.0,"y":185},{"s":"S-TNT","x":30.5,"y":183},{"s":"S-TNT","x":31.0,"y":185},{"s":"S-TNT","x":31.5,"y":184},{"s":"S-TNT","x":32.0,"y":186},{"s":"S-TNT","x":32.5,"y":183},{"s":"S-TNT","x":33.0,"y":185},{"s":"S-TNT","x":33.5,"y":184},{"s":"S-TNT","x":34.0,"y":183},{"s":"S-TNT","x":34.5,"y":185},{"s":"S-TNT","x":34.9,"y":186},{"s":"S-TNT","x":35.08,"y":193},{"s":"S-TNT","x":35.15,"y":195},{"s":"S-TNT","x":35.3,"y":188},{"s":"S-TNT","x":35.6,"y":186},{"s":"S-TNT","x":36.0,"y":190},{"s":"S-TNT","x":36.4,"y":196},{"s":"S-TNT","x":36.7,"y":205},{"s":"S-TNT","x":37.0,"y":215},{"s":"S-TNT","x":37.25,"y":225},{"s":"S-TNT","x":37.45,"y":250},{"s":"S-TNT","x":37.62,"y":380},{"s":"S-TNT","x":37.8,"y":550},{"s":"S-TNT","x":37.95,"y":450},{"s":"S-TNT","x":38.1,"y":400},{"s":"S-TNT","x":38.28,"y":515},{"s":"S-TNT","x":38.45,"y":380},{"s":"S-TNT","x":38.6,"y":280},{"s":"S-TNT","x":38.8,"y":225},{"s":"S-TNT","x":39.0,"y":205},{"s":"S-TNT","x":39.3,"y":195},{"s":"S-TNT","x":39.6,"y":193},{"s":"S-TNT","x":39.85,"y":200},{"s":"S-TNT","x":40.05,"y":240},{"s":"S-TNT","x":40.18,"y":305},{"s":"S-TNT","x":40.3,"y":240},{"s":"S-TNT","x":40.45,"y":205},{"s":"S-TNT","x":40.7,"y":190},{"s":"S-TNT","x":41.0,"y":185},{"s":"S-TNT","x":41.5,"y":183},{"s":"S-TNT","x":42.0,"y":182},{"s":"S-TNT","x":42.5,"y":184},{"s":"S-TNT","x":43.0,"y":181},{"s":"S-TNT","x":43.5,"y":183},{"s":"S-TNT","x":44.0,"y":181},{"s":"S-TNT","x":44.5,"y":182},{"s":"S-TNT","x":45.0,"y":180},{"s":"S-TNT","x":45.5,"y":182},{"s":"S-TNT","x":46.0,"y":181},{"s":"S-TNT","x":46.5,"y":183},{"s":"S-TNT","x":47.0,"y":182},{"s":"S-TNT","x":47.4,"y":188},{"s":"S-TNT","x":47.65,"y":210},{"s":"S-TNT","x":47.85,"y":245},{"s":"S-TNT","x":47.97,"y":258},{"s":"S-TNT","x":48.1,"y":235},{"s":"S-TNT","x":48.3,"y":200},{"s":"S-TNT","x":48.6,"y":188},{"s":"S-TNT","x":49.0,"y":183},{"s":"S-TNT","x":49.5,"y":181},{"s":"S-TNT","x":50.0,"y":182},{"s":"S-TNT","x":50.5,"y":180},{"s":"S-TNT","x":51.0,"y":182},{"s":"S-TNT","x":51.5,"y":180},{"s":"S-TNT","x":52.0,"y":181},{"s":"S-TNT","x":52.5,"y":183},{"s":"S-TNT","x":52.75,"y":195},{"s":"S-TNT","x":52.9,"y":240},{"s":"S-TNT","x":53.0,"y":263},{"s":"S-TNT","x":53.12,"y":225},{"s":"S-TNT","x":53.3,"y":200},{"s":"S-TNT","x":53.5,"y":205},{"s":"S-TNT","x":53.75,"y":225},{"s":"S-TNT","x":54.0,"y":248},{"s":"S-TNT","x":54.15,"y":235},{"s":"S-TNT","x":54.35,"y":205},{"s":"S-TNT","x":54.6,"y":195},{"s":"S-TNT","x":54.8,"y":200},{"s":"S-TNT","x":55.0,"y":215},{"s":"S-TNT","x":55.1,"y":218},{"s":"S-TNT","x":55.3,"y":205},{"s":"S-TNT","x":55.55,"y":192},{"s":"S-TNT","x":55.9,"y":185},{"s":"S-TNT","x":56.4,"y":182},{"s":"S-TNT","x":56.9,"y":180},{"s":"S-TNT","x":57.4,"y":182},{"s":"S-TNT","x":57.9,"y":179},{"s":"S-TNT","x":58.4,"y":181},{"s":"S-TNT","x":58.9,"y":180},{"s":"S-TNT","x":59.4,"y":182},{"s":"S-TNT","x":59.9,"y":179},{"s":"S-TNT","x":60.4,"y":181},{"s":"S-TNT","x":60.9,"y":180},{"s":"S-TNT","x":61.4,"y":182},{"s":"S-TNT","x":61.8,"y":186},{"s":"S-TNT","x":62.1,"y":192},{"s":"S-TNT","x":62.4,"y":200},{"s":"S-TNT","x":62.6,"y":210},{"s":"S-TNT","x":62.75,"y":230},{"s":"S-TNT","x":62.9,"y":210},{"s":"S-TNT","x":63.05,"y":190},{"s":"S-TNT","x":63.3,"y":184},{"s":"S-TNT","x":63.7,"y":181},{"s":"S-TNT","x":64.2,"y":180},{"s":"S-TNT","x":64.7,"y":182},{"s":"S-TNT","x":65.2,"y":179},{"s":"S-TNT","x":65.7,"y":181},{"s":"S-TNT","x":66.2,"y":180},{"s":"S-TNT","x":66.7,"y":182},{"s":"S-TNT","x":67.2,"y":181},{"s":"S-TNT","x":67.7,"y":183},{"s":"S-TNT","x":68.2,"y":186},{"s":"S-TNT","x":68.55,"y":192},{"s":"S-TNT","x":68.8,"y":195},{"s":"S-TNT","x":69.0,"y":188},{"s":"S-TNT","x":69.3,"y":184},{"s":"S-TNT","x":69.7,"y":186},{"s":"S-TNT","x":70.0,"y":192},{"s":"S-TNT","x":70.25,"y":200},{"s":"S-TNT","x":70.4,"y":215},{"s":"S-TNT","x":70.5,"y":270},{"s":"S-TNT","x":70.6,"y":325},{"s":"S-TNT","x":70.72,"y":260},{"s":"S-TNT","x":70.85,"y":200},{"s":"S-TNT","x":71.0,"y":188},{"s":"S-TNT","x":71.3,"y":183},{"s":"S-TNT","x":71.8,"y":181},{"s":"S-TNT","x":72.3,"y":180},{"s":"S-TNT","x":72.8,"y":182},{"s":"S-TNT","x":73.3,"y":184},{"s":"S-TNT","x":73.8,"y":187},{"s":"S-TNT","x":74.3,"y":190},{"s":"S-TNT","x":74.7,"y":193},{"s":"S-TNT","x":75.1,"y":191},{"s":"S-TNT","x":75.5,"y":190},{"s":"S-TNT","x":75.8,"y":198},{"s":"S-TNT","x":76.0,"y":220},{"s":"S-TNT","x":76.08,"y":232},{"s":"S-TNT","x":76.2,"y":205},{"s":"S-TNT","x":76.4,"y":188},{"s":"S-TNT","x":76.7,"y":182},{"s":"S-TNT","x":77.0,"y":185},{"s":"S-TNT","x":77.2,"y":193},{"s":"S-TNT","x":77.4,"y":192},{"s":"S-TNT","x":77.6,"y":183},{"s":"S-TNT","x":78.0,"y":181},{"s":"S-TNT","x":78.5,"y":180},{"s":"S-TNT","x":79.0,"y":182},{"s":"S-TNT","x":79.5,"y":180},{"s":"S-TNT","x":80.0,"y":181}
],
"peaks":[
{"label":"A","x":25.26,"y":428},
{"label":"H, A","x":34.97,"y":240},
{"label":"Ti","x":37.12,"y":603},
{"label":"Ti","x":40.9,"y":540},
{"label":"H, A","x":41.37,"y":320},
{"label":"A","x":47.64,"y":272},
{"label":"A H,Ti","x":52.97,"y":306},
{"label":"A","x":54.18,"y":259},
{"label":"Ti","x":55.66,"y":323},
{"label":"H, A","x":55.66,"y":250},
{"label":"H, Ti","x":62.94,"y":302},
{"label":"A","x":62.94,"y":240},
{"label":"A","x":69.69,"y":337},
{"label":"Ti","x":70.6,"y":375},
{"label":"A, Ti","x":75.6,"y":269},
{"label":"A","x":77.8,"y":230}
],
"ticks":[
{"x":20,"lo":0,"hi":8},{"x":25,"lo":0,"hi":4},{"x":30,"lo":0,"hi":8},{"x":35,"lo":0,"hi":4},{"x":40,"lo":0,"hi":8},{"x":45,"lo":0,"hi":4},{"x":50,"lo":0,"hi":8},{"x":55,"lo":0,"hi":4},{"x":60,"lo":0,"hi":8},{"x":65,"lo":0,"hi":4},{"x":70,"lo":0,"hi":8},{"x":75,"lo":0,"hi":4},{"x":80,"lo":0,"hi":8}
],
"keybox":[{"x":20.4,"x2":32.0,"y":610,"y2":522}],
"keytext":[
{"label":"A: Anatase","x":20.65,"y":593},
{"label":"Ti: Ti substrate","x":20.65,"y":566},
{"label":"H: α-Fe₂O₃","x":20.65,"y":538}
]
},
"layer":[
{
"data":{"name":"curves"},
"mark":{"type":"line","strokeWidth":2.4,"clip":true,"interpolate":"linear"},
"encoding":{
"x":{"field":"x","type":"quantitative","scale":{"domain":[20,80],"nice":false,"zero":false},
"axis":{"title":"2θ (degree)","values":[20,30,40,50,60,70,80],"ticks":false,
"domainColor":"black","domainWidth":1.2,"grid":false,"labelFlush":false,
"labelFont":"Liberation Serif","labelFontSize":23,"labelFontWeight":"bold","labelColor":"black","labelPadding":30,
"titleFont":"Liberation Serif","titleFontSize":25,"titleFontWeight":"bold","titleColor":"black","titlePadding":27}},
"y":{"field":"y","type":"quantitative","scale":{"domain":[0,623],"nice":false,"zero":false},
"axis":{"title":"Intensity (a.u.)","ticks":false,"labels":false,"grid":false,"domainColor":"black","domainWidth":1.2,
"titleFont":"Liberation Serif","titleFontSize":27,"titleFontWeight":"bold","titleColor":"black","titlePadding":33}},
"color":{"field":"s","type":"nominal",
"scale":{"domain":["TNT","Fe-TNT","Fe3S-TNT","Fe2S2-TNT","FeS3-TNT","S-TNT"],"range":["#000000","#0000ff","#008080","#808000","#800000","#993366"]},
"legend":{"title":null,"orient":"none","legendX":535,"legendY":12,"columns":2,"direction":"horizontal",
"symbolType":"stroke","symbolSize":1300,"symbolStrokeWidth":2.5,
"labelFont":"Liberation Serif","labelFontSize":22,"labelFontWeight":"bold","labelColor":"black","labelLimit":200,
"strokeColor":"black","fillColor":"white","padding":11,"rowPadding":17,"columnPadding":21,"labelOffset":4}}
}
},
{
"data":{"name":"ticks"},
"mark":{"type":"rule","color":"black","strokeWidth":1.2},
"encoding":{"x":{"field":"x","type":"quantitative"},"y":{"field":"lo","type":"quantitative"},"y2":{"field":"hi"}}
},
{
"data":{"name":"peaks"},
"mark":{"type":"text","angle":270,"align":"center","baseline":"middle","font":"Liberation Serif","fontSize":24,"fontWeight":"bold","color":"black"},
"encoding":{"x":{"field":"x","type":"quantitative"},"y":{"field":"y","type":"quantitative"},"text":{"field":"label"}}
},
{
"data":{"name":"keybox"},
"mark":{"type":"rect","fill":"white","stroke":"black","strokeWidth":1.2},
"encoding":{"x":{"field":"x","type":"quantitative"},"x2":{"field":"x2"},"y":{"field":"y","type":"quantitative"},"y2":{"field":"y2"}}
},
{
"data":{"name":"keytext"},
"mark":{"type":"text","align":"left","baseline":"middle","font":"Liberation Serif","fontSize":22,"fontWeight":"bold","color":"black"},
"encoding":{"x":{"field":"x","type":"quantitative"},"y":{"field":"y","type":"quantitative"},"text":{"field":"label"}}
}
]
}
